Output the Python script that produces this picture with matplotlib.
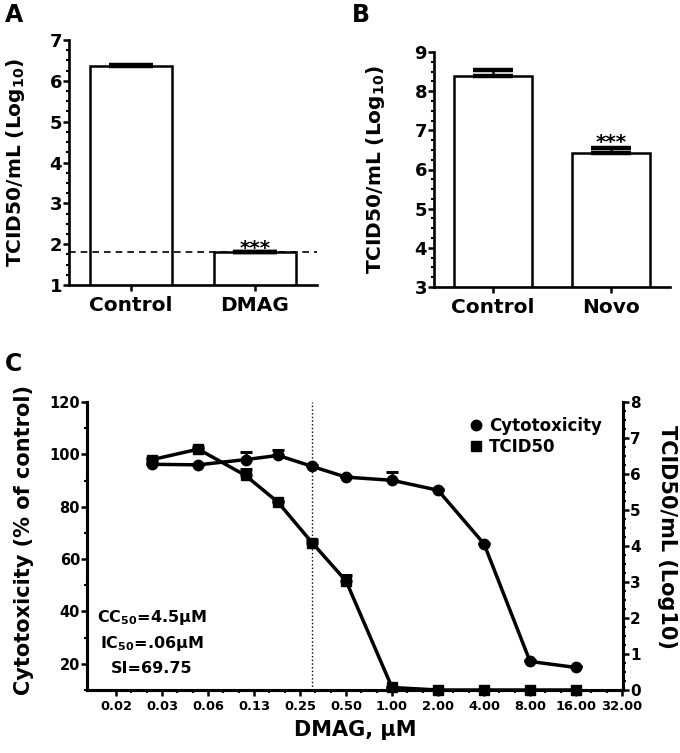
import matplotlib
matplotlib.use('Agg')
import matplotlib.pyplot as plt
from matplotlib.ticker import MultipleLocator, FixedLocator, NullFormatter
from matplotlib.lines import Line2D

plt.rcParams['font.family'] = ['DejaVu Sans']
plt.rcParams['font.weight'] = 'bold'
plt.rcParams['axes.labelweight'] = 'bold'
plt.rcParams['mathtext.fontset'] = 'dejavusans'
plt.rcParams['mathtext.default'] = 'bf'

# panel A
a_groups = ['Control', 'DMAG']
a_mean = [6.36, 1.80]
a_err = [0.03, 0.02]
a_limit = 1.8

# panel B
b_groups = ['Control', 'Novo']
b_mean = [8.40, 6.41]
b_err = [0.14, 0.13]

# panel C
dose = [0.027, 0.054, 0.11, 0.18, 0.30, 0.50, 1, 2, 4, 8, 16]
cyto = [96.2, 96.0, 98.0, 99.6, 95.4, 91.3, 90.1, 86.3, 65.8, 20.9, 18.6]
cyto_err = [0.6, 0.5, 3.0, 2.0, 0.5, 0.5, 3.0, 0.5, 0.5, 0.5, 0.5]
tcid = [6.40, 6.69, 5.96, 5.21, 4.09, 3.03, 0.07, 0.0, 0.0, 0.0, 0.0]
tcid_err = [0.05, 0.05, 0.19, 0.05, 0.08, 0.16, 0.02, 0.0, 0.0, 0.0, 0.0]
ic_line = 0.30
x_ticks = [2.0 ** k for k in range(-6, 6)]
x_labels = ['0.02', '0.03', '0.06', '0.13', '0.25', '0.50',
            '1.00', '2.00', '4.00', '8.00', '16.00', '32.00']
notes = ['CC$_{50}$=4.5\u03bcM', 'IC$_{50}$=.06\u03bcM', 'SI=69.75']

W, H = 680, 753
fig = plt.figure(figsize=(W / 100, H / 100), dpi=100)


def box(l, t, r, b):
    return [l / W, 1 - b / H, (r - l) / W, (b - t) / H]


def up_only(err):
    # only the upper half of each error bar is shown
    return [[0] * len(err), err]


def bar_panel(rect, groups, mean, err, ylim, capsize, ylab_x):
    ax = fig.add_axes(rect)
    ax.errorbar(range(len(groups)), mean, yerr=up_only(err), fmt='none', ecolor='black',
                elinewidth=1.8, capsize=capsize, capthick=3.2, zorder=3)
    ax.bar(range(len(groups)), mean, width=0.66, color='white',
           edgecolor='black', linewidth=1.8, zorder=2)
    ax.set_xlim(-0.5, 1.5)
    ax.set_ylim(*ylim)
    ax.set_xticks(range(len(groups)))
    ax.set_xticklabels(groups, fontsize=14.5, fontweight='bold')
    ax.yaxis.set_major_locator(MultipleLocator(1))
    ax.yaxis.set_minor_locator(MultipleLocator(0.25))
    for s in ['top', 'right']:
        ax.spines[s].set_visible(False)
    for s in ['left', 'bottom']:
        ax.spines[s].set_linewidth(1.9)
    ax.tick_params(axis='y', which='major', labelsize=13, width=1.8, length=4, pad=1)
    ax.tick_params(axis='y', which='minor', width=1.5, length=2)
    ax.tick_params(axis='x', width=1.8, length=4, pad=4)
    ax.set_ylabel('TCID50/mL (Log$_{10}$)', fontsize=14.5, fontweight='bold')
    ax.yaxis.set_label_coords(ylab_x, 0.5)
    return ax


# A
axA = bar_panel(box(69, 40, 317, 285), a_groups, a_mean, a_err, (1, 7), 15.5, -0.17)
axA.axhline(a_limit, color='black', ls='--', lw=1.2, dashes=(4, 3), zorder=4)
axA.text(1, 1.76, '***', ha='center', va='baseline', fontsize=14.5, fontweight='bold')

# B
axB = bar_panel(box(434, 52, 670, 287), b_groups, b_mean, b_err, (3, 9), 14.5, -0.20)
axB.text(1, 6.56, '***', ha='center', va='baseline', fontsize=14.5, fontweight='bold')

fig.text(5 / W, 1 - 3 / H, 'A', fontsize=17, fontweight='bold', va='top')
fig.text(352 / W, 1 - 3 / H, 'B', fontsize=17, fontweight='bold', va='top')
fig.text(5 / W, 1 - 352 / H, 'C', fontsize=17, fontweight='bold', va='top')

# C
axC = fig.add_axes(box(87, 402, 623, 690))
ax2 = axC.twinx()
axC.set_xscale('log', base=2)
axC.set_xlim(2 ** -6.63, 2 ** 5.02)
axC.set_ylim(10, 120)
ax2.set_ylim(0, 8)

axC.axvline(ic_line, color='black', ls=':', lw=1.0, zorder=1)
axC.errorbar(dose, cyto, yerr=up_only(cyto_err), fmt='-o', color='black', lw=2.5,
             ms=7.5, capsize=4, capthick=2.2, elinewidth=1.8, zorder=3, clip_on=False)
ax2.errorbar(dose, tcid, yerr=up_only(tcid_err), fmt='-s', color='black', lw=2.5,
             ms=7.5, capsize=4, capthick=2.2, elinewidth=1.8, zorder=3, clip_on=False)

axC.xaxis.set_major_locator(FixedLocator(x_ticks))
axC.xaxis.set_minor_locator(FixedLocator([x * 2 ** f for x in x_ticks[:-1] for f in (1 / 3, 2 / 3)]))
axC.xaxis.set_minor_formatter(NullFormatter())
axC.set_xticklabels(x_labels, fontsize=9.4, fontweight='bold')
axC.yaxis.set_major_locator(FixedLocator([20, 40, 60, 80, 100, 120]))
axC.yaxis.set_minor_locator(MultipleLocator(10))
ax2.yaxis.set_major_locator(MultipleLocator(1))
ax2.yaxis.set_minor_locator(MultipleLocator(0.25))

for a in (axC, ax2):
    a.spines['top'].set_visible(False)
    for s in ['left', 'bottom', 'right']:
        a.spines[s].set_linewidth(2.2)
axC.tick_params(axis='y', which='major', labelsize=10.5, width=1.8, length=4, pad=1)
axC.tick_params(axis='y', which='minor', width=1.5, length=2)
axC.tick_params(axis='x', which='major', width=1.8, length=4, pad=3)
axC.tick_params(axis='x', which='minor', width=1.5, length=2)
ax2.tick_params(axis='y', which='major', labelsize=11, width=1.8, length=4, pad=1)
ax2.tick_params(axis='y', which='minor', width=1.5, length=2)
for lab in axC.get_yticklabels() + ax2.get_yticklabels():
    lab.set_fontweight('bold')

axC.set_ylabel('Cytotoxicity (% of control)', fontsize=15, fontweight='bold')
axC.yaxis.set_label_coords(-0.099, 0.52)
ax2.set_ylabel('TCID50/mL (Log10)', fontsize=15, fontweight='bold', rotation=270, va='center')
ax2.yaxis.set_label_coords(1.082, 0.53)
axC.set_xlabel('DMAG, \u03bcM', fontsize=15, fontweight='bold')
axC.xaxis.set_label_coords(0.5, -0.105)

for i, t in enumerate(notes):
    axC.text(0.121, [0.253, 0.163, 0.076][i], t, transform=axC.transAxes,
             ha='center', va='center', fontsize=11.5, fontweight='bold')

handles = [Line2D([], [], marker='o', color='black', ls='none', ms=7.5),
           Line2D([], [], marker='s', color='black', ls='none', ms=7.5)]
axC.legend(handles, ['Cytotoxicity', 'TCID50'], loc='upper left',
           bbox_to_anchor=(0.70, 0.97), frameon=False, handlelength=0.8,
           handletextpad=0.4, labelspacing=0.15, borderaxespad=0,
           prop={'size': 12, 'weight': 'bold'})

fig.savefig('out.png', dpi=100)
